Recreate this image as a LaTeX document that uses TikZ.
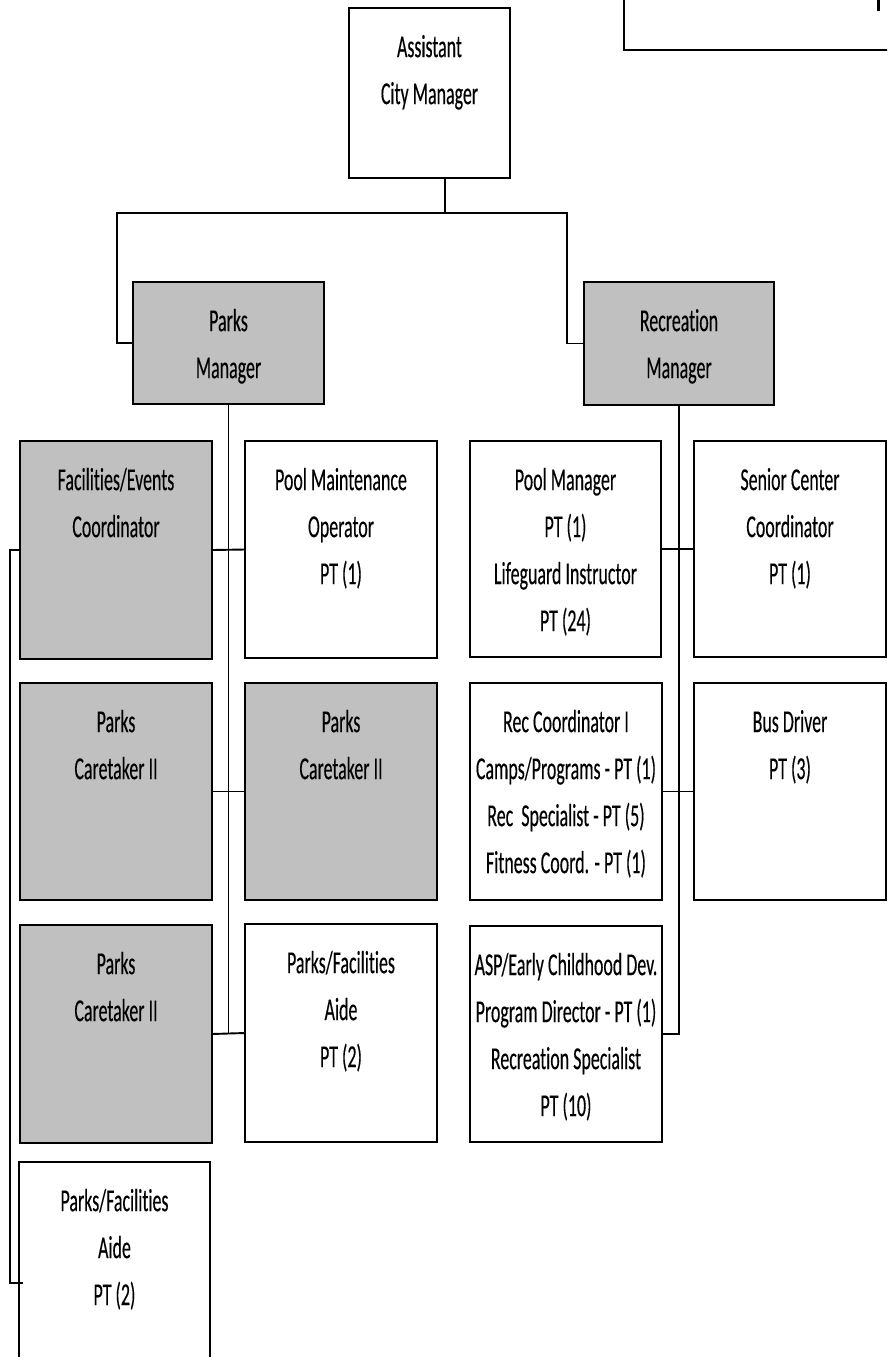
\documentclass[tikz,border=0pt]{standalone}
\usepackage{fontspec}
\setmainfont{Carlito}[FakeStretch=0.56, FakeBold=0.25, Ligatures={NoCommon}]
\definecolor{boxgray}{RGB}{192,192,192}
\tikzset{
  box/.style={draw=black, line width=2.4pt, anchor=north west, inner sep=0pt, outer sep=0pt},
  gbox/.style={box, fill=boxgray},
  wbox/.style={box, fill=white},
  txt/.style={anchor=north, align=center, inner sep=0pt, font=\fontsize{32}{47}\selectfont},
  conn/.style={line width=1.9pt},
}
\newcommand\orgbox[7]{%
  \node[#1, minimum width=#5pt, minimum height=#6pt] (#2) at (#3,#4) {};
  \node[txt] (#2-t) at ([yshift=-16pt]#2.north) {\strut #7};
}
\begin{document}
\begin{tikzpicture}[x=1pt,y=-1pt]
\useasboundingbox (0,0) rectangle (887,1366);
\clip (0,0) rectangle (887,1366);
\fill[white] (0,0) rectangle (887,1366);
% top right partial box
\node[wbox, minimum width=290pt, minimum height=70pt] (tr) at (624,-20) {};
\draw[line width=3pt] (878,0) -- (878,11);

\orgbox{wbox}{acm}{349}{8}{161}{170}{Assistant\\City Manager}
\orgbox{gbox}{pm}{133}{282}{191}{122}{Parks\\Manager}
\orgbox{gbox}{rm}{584}{282}{190}{123}{Recreation\\Manager}
\orgbox{gbox}{fac}{20}{441}{192}{218}{Facilities/Events\\Coordinator}
\orgbox{wbox}{pmo}{245}{441}{192}{217}{Pool Maintenance\\Operator\\PT (1)}
\orgbox{wbox}{poolm}{470}{441}{191}{216}{Pool Manager\\PT (1)\\Lifeguard Instructor\\PT (24)}
\orgbox{wbox}{scc}{694}{441}{192}{216}{Senior Center\\Coordinator\\PT (1)}
\orgbox{gbox}{pc1}{20}{683}{192}{217}{Parks\\Caretaker II}
\orgbox{gbox}{pc2}{245}{683}{192}{217}{Parks\\Caretaker II}
\orgbox{wbox}{rc}{470}{683}{192}{217}{Rec Coordinator I\\Camps/Programs - PT (1)\\Rec\ \ Specialist - PT (5)\\Fitness Coord. - PT (1)}
\orgbox{wbox}{bus}{694}{683}{192}{217}{Bus Driver\\PT (3)}
\orgbox{gbox}{pc3}{20}{925}{192}{218}{Parks\\Caretaker II}
\orgbox{wbox}{aide1}{245}{924}{192}{218}{Parks/Facilities\\Aide\\PT (2)}
\orgbox{wbox}{asp}{470}{926}{192}{216}{ASP/Early Childhood Dev.\\Program Director - PT (1)\\Recreation Specialist\\PT (10)}
\orgbox{box, draw=none}{aide2}{19}{1162}{191}{195}{Parks/Facilities\\Aide\\PT (2)}
\draw[line width=2.4pt] (aide2.south west) -- (aide2.north west) -- (aide2.north east) -- (aide2.south east);

% top connectors
\coordinate (j) at (445,213);
\coordinate (hl) at (117,213);
\coordinate (hr) at (567,213);
\draw[conn] (acm.south -| j) -- (j);
\draw[conn] (pm.west) -| (hl) -- (hr) |- (rm.west);

% parks branch
\draw[conn] (pm.south) -- (pm.south |- aide1.west);
\draw[conn] (fac.east) -- (pmo.west);
\draw[conn] (pc1.east) -- (pc2.west);
\draw[conn] (pc3.east) -- (aide1.west);

% recreation branch
\draw[conn] (rm.south) -- (rm.south |- asp.east) -- (asp.east);
\draw[conn] (poolm.east) -- (scc.west);
\draw[conn] (rc.east) -- (bus.west);

% left bracket
\coordinate (b2) at ([yshift=-121pt]aide2.north west);
\draw[conn] (fac.west) -- ++(-10,0) |- ([xshift=4pt]b2);
\end{tikzpicture}
\end{document}
